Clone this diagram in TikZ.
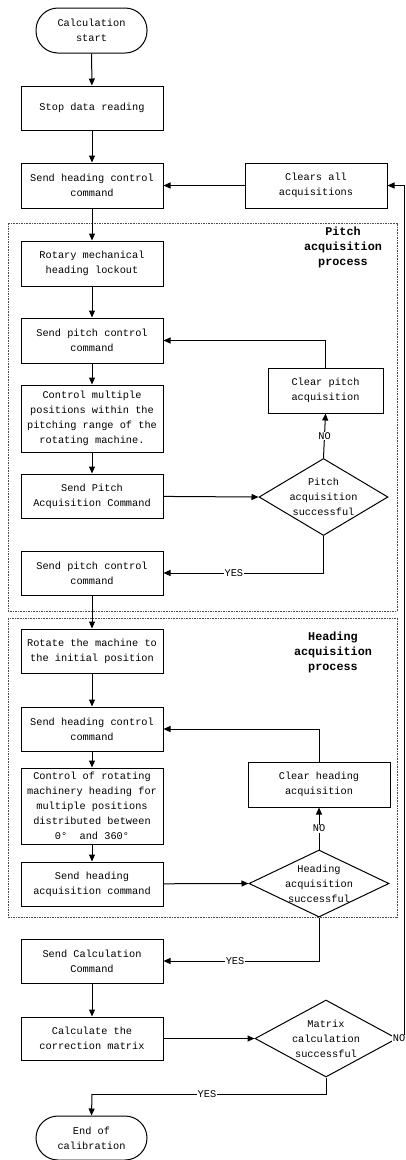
\documentclass[tikz,border=0pt]{standalone}
\usepackage{fontspec}
\setmainfont{Liberation Mono}
\usetikzlibrary{arrows.meta,shapes.geometric}
\begin{document}
\begin{tikzpicture}[x=1pt,y=-1pt,
  every node/.style={font=\fontsize{10.3}{15}\selectfont, align=center, inner sep=0pt},
  box/.style={draw, line width=1pt, minimum width=142pt},
  term/.style={draw, line width=1pt, minimum width=111pt, minimum height=45pt, rounded corners=22pt},
  dec/.style={draw, diamond, line width=1pt},
  group/.style={draw=black!70, line width=0.8pt, dash pattern=on 1.6pt off 1pt},
  glabel/.style={font=\fontsize{11.8}{15}\selectfont\bfseries},
  yn/.style={fill=white, inner sep=0.5pt},
  flow/.style={line width=1pt, -{Triangle[length=7pt,width=6pt]}},
  plain/.style={line width=1pt}
]
\useasboundingbox (0,0) rectangle (406,1160);

% dashed frames around the two acquisition loops
\draw[group] (8,223) rectangle (397,611);
\draw[group] (8,618) rectangle (397,917);
\node[glabel] (lp) at (343,247) {Pitch\\acquisition\\process};
\node[glabel] (lh) at (333,652) {Heading\\acquisition\\process};

% main column
\node[term] (start) at (91.5,30.5) {Calculation\\start};
\node[box, minimum height=44pt] (stop) at (92,108) {Stop data reading};
\node[box, minimum height=45pt] (shc) at (92,185.5) {Send heading control\\command};
\node[box, minimum height=45pt] (clr) at (316,185.5) {Clears all\\acquisitions};

% pitch loop
\node[box, minimum height=45pt] (rot) at (92,263.5) {Rotary mechanical\\heading lockout};
\node[box, minimum height=45pt] (spc) at (92,340.5) {Send pitch control\\command};
\node[box, minimum width=115pt, minimum height=45pt] (cpa) at (325.5,390.5) {Clear pitch\\acquisition};
\node[box, minimum height=67pt] (cmp) at (92,418.5) {Control multiple\\positions within the\\pitching range of the\\rotating machine.};
\node[box, minimum height=44pt] (spa) at (92,496) {Send Pitch\\Acquisition Command};
\node[dec, minimum width=129pt, minimum height=77pt] (pd) at (323.5,497) {};
\node (pdt) at (323.5,497) {Pitch\\acquisition\\successful};
\node[box, minimum height=44pt] (spc2) at (92,573) {Send pitch control\\command};

% heading loop
\node[box, minimum height=44pt] (rtm) at (92,651) {Rotate the machine to\\the initial position};
\node[box, minimum height=44pt] (shc2) at (92,729) {Send heading control\\command};
\node[box, minimum height=45pt] (cha) at (319,784.5) {Clear heading\\acquisition};
\node[box, minimum height=76pt] (crm) at (92,806) {Control of rotating\\machinery heading for\\multiple positions\\distributed between\\0°\ \ and 360°};
\node[box, minimum height=44pt] (sha) at (92,884) {Send heading\\acquisition command};
\node[dec, minimum width=140pt, minimum height=67pt] (hd) at (319,883.5) {};
\node (hdt) at (319,883.5) {Heading\\acquisition\\successful};

% calculation
\node[box, minimum height=44pt] (scc) at (92,961) {Send Calculation\\Command};
\node[box, minimum height=43pt] (ccm) at (92,1038.5) {Calculate the\\correction matrix};
\node[dec, minimum width=142pt, minimum height=77pt] (md) at (326,1038.5) {};
\node (mdt) at (326,1038.5) {Matrix\\calculation\\successful};
\node[term, minimum height=44pt] (end) at (91.5,1138) {End of\\calibration};

% connectors
\draw[flow] (start) -- (stop);
\draw[flow] (stop) -- (shc);
\draw[flow] (clr) -- (shc);
\draw[flow] (shc) -- (rot);
\draw[flow] (rot) -- (spc);
\draw[flow] (spc) -- (cmp);
\draw[flow] (cmp) -- (spa);
\draw[flow] (spa) -- (pd.west);
\draw[flow] (pd.north) -- node[yn] (no1) {NO} (cpa.south);
\draw[flow] (cpa.north) |- (spc.east);
\draw[flow] (pd.south) |- node[yn, pos=0.78] (yes1) {YES} (spc2.east);
\draw[flow] (spc2) -- (rtm);
\draw[flow] (rtm) -- (shc2);
\draw[flow] (shc2) -- (crm);
\draw[flow] (crm) -- (sha);
\draw[flow] (sha) -- (hd.west);
\draw[flow] (hd.north) -- node[yn] (no2) {NO} (cha.south);
\draw[flow] (cha.north) |- (shc2.east);
\draw[flow] (hd.south) |- node[yn, pos=0.77] (yes2) {YES} (scc.east);
\draw[flow] (scc) -- (ccm);
\draw[flow] (ccm) -- (md.west);
\coordinate (rt) at (404,1038.5);
\draw[flow] (md.east) -- (rt) |- (clr.east);
\node[yn, anchor=east] (no3) at (406,1038.5) {NO};
\coordinate (bl) at (92,1094);
\draw[plain] (md.south) |- (bl);
\draw[flow] (bl) -- (end.north);
\node[yn] (yes3) at (207,1094) {YES};
\end{tikzpicture}
\end{document}
